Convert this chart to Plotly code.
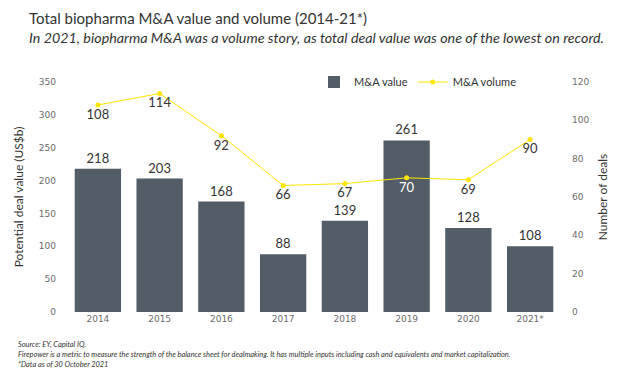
import plotly.graph_objects as go

years = ["2014", "2015", "2016", "2017", "2018", "2019", "2020", "2021*"]
deal_value_labels = [218, 203, 168, 88, 139, 261, 128, 108]
deal_value_bars = [218, 203, 168, 88, 139, 261, 128, 100]
deal_volume = [108, 114, 92, 66, 67, 70, 69, 90]

FONT = "Lato"
TICKFONT = "DejaVu Sans"
DARK = "#333333"
GRAY = "#6b6b6b"

ML, MR, MT, MB = 67, 63, 82, 74
W, H = 624, 386

# volume label inside the 2019 bar is white
vol_label_colors = ["#ffffff" if y == "2019" else DARK for y in years]

fig = go.Figure()
fig.add_trace(go.Bar(
    x=years, y=deal_value_bars, name="M&A value",
    marker=dict(color="#535d67", line=dict(width=0)),
    text=[str(v) for v in deal_value_labels], textposition="outside",
    textfont=dict(size=13, color=DARK, family=FONT), cliponaxis=False,
))
fig.add_trace(go.Scatter(
    x=years, y=deal_volume, name="M&A volume", yaxis="y2",
    mode="lines+markers+text",
    line=dict(color="#FFE600", width=1),
    marker=dict(color="#FFE600", size=5),
    text=[str(v) for v in deal_volume], textposition="bottom center",
    textfont=dict(size=13, color=vol_label_colors, family=FONT), cliponaxis=False,
))

fig.update_layout(
    width=W, height=H,
    paper_bgcolor="white", plot_bgcolor="white",
    margin=dict(l=ML, r=MR, t=MT, b=MB, autoexpand=False),
    font=dict(family=FONT, color=DARK),
    bargap=0.25,
    showlegend=True,
    legend=dict(orientation="h", x=0.50, y=1.0, xanchor="left", yanchor="middle",
                font=dict(size=11, color=DARK, family=FONT), bgcolor="rgba(0,0,0,0)",
                itemwidth=30),
    xaxis=dict(showgrid=False, showline=False, zeroline=False, ticks="", automargin=False,
               tickfont=dict(size=9, color=GRAY, family=TICKFONT)),
    yaxis=dict(range=[0, 350], dtick=50, showgrid=False, zeroline=False, showline=False,
               automargin=False,
               tickfont=dict(size=9, color=GRAY, family=TICKFONT), ticklabelstandoff=10,
               title=dict(text="Potential deal value (US$b)", font=dict(size=12, color=DARK, family=FONT), standoff=12)),
    yaxis2=dict(range=[0, 120], dtick=20, overlaying="y", side="right", showgrid=False,
                zeroline=False, showline=False, automargin=False,
                tickfont=dict(size=9, color=GRAY, family=TICKFONT), ticklabelstandoff=10,
                title=dict(text="Number of deals", font=dict(size=12, color=DARK, family=FONT), standoff=10)),
)

anns = [
    dict(text="Total biopharma M&A value and volume (2014-21*)", x=27, y=18, size=15),
    dict(text="<i>In 2021, biopharma M&A was a volume story, as total deal value was one of the lowest on record.</i>", x=27, y=37, size=14.3),
    dict(text="<i>Source: EY, Capital IQ.</i>", x=16, y=344, size=7.4),
    dict(text="<i>Firepower is a metric to measure the strength of the balance sheet for dealmaking. It has multiple inputs including cash and equivalents and market capitalization.</i>", x=16, y=354, size=7.4),
    dict(text="<i>*Data as of 30 October 2021</i>", x=16, y=364, size=7.4),
]
for a in anns:
    fig.add_annotation(
        text=a["text"], xref="paper", yref="paper",
        x=(a["x"] - ML) / (W - ML - MR), y=1 - (a["y"] - MT) / (H - MT - MB),
        xanchor="left", yanchor="middle", showarrow=False,
        font=dict(size=a["size"], color=DARK, family=FONT),
    )

fig.write_html("out.html", config={"displayModeBar": False},
               post_script="document.body.style.margin='0';document.body.style.overflow='hidden';")
